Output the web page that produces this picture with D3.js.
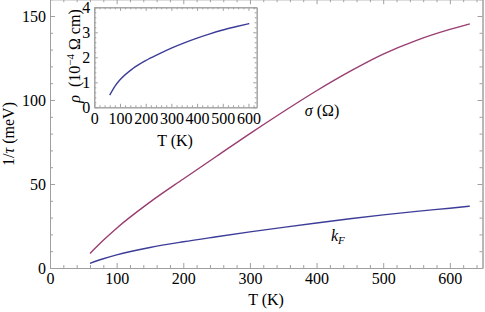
<!DOCTYPE html>
<html>
<head>
<meta charset="utf-8">
<script src="https://d3js.org/d3.v7.min.js"></script>
<style>
  body { margin: 0; background: #fff; }
  .frame path, .frame line { stroke: #a0a0a0; }
  .frame text { fill: #000; }
</style>
</head>
<body>
<svg id="chart" width="485" height="312" font-family="Liberation Serif"></svg>
<script>
// main plot data: 1/tau (meV) vs T (K)
var tMain   = [60, 80, 100, 150, 200, 250, 300, 350, 400, 450, 500, 550, 600, 630];
var sigma   = [8.7, 16.5, 23.7, 39.2, 53, 66.5, 80, 93, 105.5, 117, 127.3, 135.5, 142, 145.3];
var kF      = [2.8, 5.5, 7.8, 12.2, 15.6, 18.6, 21.5, 24.2, 26.8, 29.3, 31.6, 33.7, 35.6, 36.8];

// inset data: resistivity (10^-4 Ohm cm) vs T (K)
var tInset  = [60, 80, 100, 150, 200, 250, 300, 350, 400, 450, 500, 550, 603];
var rho     = [0.49, 0.84, 1.1, 1.55, 1.87, 2.13, 2.37, 2.58, 2.77, 2.94, 3.09, 3.22, 3.35];

var mainXTicks = [0, 100, 200, 300, 400, 500, 600];
var mainYTicks = [0, 50, 100, 150];
var insetXTicks = [0, 100, 200, 300, 400, 500, 600];
var insetYTicks = [0, 1, 2, 3, 4];

var FONT = "Liberation Serif";
var svg = d3.select("#chart");

function frame(g, x, y, xt, yt, xMinorStep, yMinorStep, majLen, minLen, fs) {
    var xd = x.domain(), yd = y.domain();
    var xMinor = d3.range(0, xd[1] + 0.001, xMinorStep).filter(function(v) { return xt.indexOf(v) < 0; });
    var yMinor = d3.range(0, yd[1] + 0.001, yMinorStep).filter(function(v) {
        return !yt.some(function(t) { return Math.abs(t - v) < 1e-6; });
    });

    var b = g.append("g").attr("class", "frame").attr("transform", "translate(0," + y.range()[0] + ")");
    b.call(d3.axisBottom(x).tickValues(xt).tickSizeInner(-majLen).tickSizeOuter(0).tickPadding(5).tickFormat(d3.format("d")));
    b.append("g").call(d3.axisBottom(x).tickValues(xMinor).tickSizeInner(-minLen).tickSizeOuter(0).tickFormat(""));
    var t = g.append("g").attr("class", "frame").attr("transform", "translate(0," + y.range()[1] + ")");
    t.call(d3.axisTop(x).tickValues(xt).tickSizeInner(-majLen).tickSizeOuter(0).tickFormat(""));
    t.append("g").call(d3.axisTop(x).tickValues(xMinor).tickSizeInner(-minLen).tickSizeOuter(0).tickFormat(""));

    var l = g.append("g").attr("class", "frame").attr("transform", "translate(" + x.range()[0] + ",0)");
    l.call(d3.axisLeft(y).tickValues(yt).tickSizeInner(-majLen).tickSizeOuter(0).tickPadding(4).tickFormat(d3.format("d")));
    l.append("g").call(d3.axisLeft(y).tickValues(yMinor).tickSizeInner(-minLen).tickSizeOuter(0).tickFormat(""));
    var r = g.append("g").attr("class", "frame").attr("transform", "translate(" + x.range()[1] + ",0)");
    r.call(d3.axisRight(y).tickValues(yt).tickSizeInner(-majLen).tickSizeOuter(0).tickFormat(""));
    r.append("g").call(d3.axisRight(y).tickValues(yMinor).tickSizeInner(-minLen).tickSizeOuter(0).tickFormat(""));

    g.selectAll(".frame").attr("font-family", FONT).attr("font-size", fs);
    g.selectAll(".frame text").attr("font-family", FONT).attr("font-size", fs);
}

// ---- main plot ----
var x = d3.scaleLinear().domain([0, 649]).range([50, 482.5]);
var y = d3.scaleLinear().domain([0, 160]).range([268, -0.8]);

var main = svg.append("g");
frame(main, x, y, mainXTicks, mainYTicks, 20, 10, 5, 3, 16);

var line = d3.line().curve(d3.curveMonotoneX);
main.append("path")
    .attr("d", line(tMain.map(function(t, i) { return [x(t), y(sigma[i])]; })))
    .attr("fill", "none").attr("stroke", "#993d71").attr("stroke-width", 1.4);
main.append("path")
    .attr("d", line(tMain.map(function(t, i) { return [x(t), y(kF[i])]; })))
    .attr("fill", "none").attr("stroke", "#3d3d99").attr("stroke-width", 1.4);

var sl = main.append("text").attr("x", 322).attr("y", 116).attr("text-anchor", "middle")
    .attr("font-family", FONT).attr("font-size", 16);
sl.append("tspan").attr("font-style", "italic").text("σ");
sl.append("tspan").text(" (Ω)");
var kl = main.append("text").attr("x", 331).attr("y", 241).attr("font-family", FONT).attr("font-size", 16);
kl.append("tspan").attr("font-style", "italic").text("k");
kl.append("tspan").attr("font-style", "italic").attr("dy", 3).attr("font-size", 11).text("F");

main.append("text").attr("x", 266).attr("y", 305).attr("text-anchor", "middle")
    .attr("font-family", FONT).attr("font-size", 16).text("T (K)");
var yl = main.append("text").attr("transform", "translate(14,134) rotate(-90)").attr("text-anchor", "middle")
    .attr("font-family", FONT).attr("font-size", 16);
yl.append("tspan").text("1/");
yl.append("tspan").attr("font-style", "italic").text("τ");
yl.append("tspan").text(" (meV)");

// ---- inset ----
var xi = d3.scaleLinear().domain([0, 632]).range([94.3, 256.7]);
var yi = d3.scaleLinear().domain([0, 4]).range([107.3, 7.3]);

var inset = svg.append("g");
inset.append("rect").attr("x", 94.3).attr("y", 7.3).attr("width", 256.7 - 94.3).attr("height", 100)
    .attr("fill", "#fff");
frame(inset, xi, yi, insetXTicks, insetYTicks, 20, 0.2, 3.5, 2, 16);

inset.append("path")
    .attr("d", line(tInset.map(function(t, i) { return [xi(t), yi(rho[i])]; })))
    .attr("fill", "none").attr("stroke", "#3d3d99").attr("stroke-width", 1.4);

inset.append("text").attr("x", 175).attr("y", 146).attr("text-anchor", "middle")
    .attr("font-family", FONT).attr("font-size", 16).text("T (K)");
var il = inset.append("text").attr("transform", "translate(80,56) rotate(-90)").attr("text-anchor", "middle")
    .attr("font-family", FONT).attr("font-size", 16);
il.append("tspan").attr("font-style", "italic").text("ρ");
il.append("tspan").text("\u2002(10");
il.append("tspan").attr("dy", -6).attr("font-size", 11).text("\u22124");
il.append("tspan").attr("dy", 6).text(" Ω cm)");
</script>
</body>
</html>
